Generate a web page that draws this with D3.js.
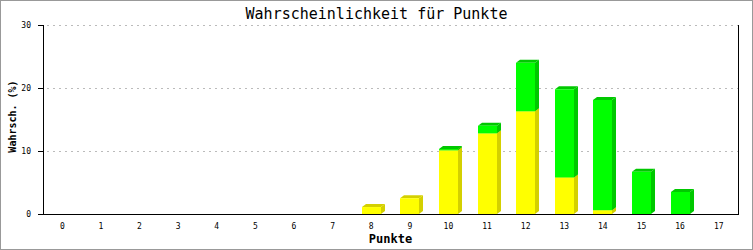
<!DOCTYPE html>
<html>
<head>
<meta charset="utf-8">
<script src="https://cdn.jsdelivr.net/npm/d3@7"></script>
<style>
  body { margin: 0; background: #fff; }
  svg { display: block; }
</style>
</head>
<body>
<div id="chart"></div>
<script>
// Daten
const punkte = ["0","1","2","3","4","5","6","7","8","9","10","11","12","13","14","15","16","17"];
const gelb  = [0,0,0,0,0,0,0,0,1.1,2.5,10.1,12.8,16.3,5.8,0.6,0,0,0];
const gruen = [0,0,0,0,0,0,0,0,0,0,0.2,1.2,7.7,14.0,17.5,6.7,3.5,0];
const yTicks = [0, 10, 20, 30];

const width = 753, height = 250;
const margin = {top: 25, right: 15, bottom: 36, left: 43};

const svg = d3.select("#chart").append("svg")
  .attr("width", width)
  .attr("height", height);

// Rahmen
svg.append("rect")
  .attr("x", 0.5).attr("y", 0.5)
  .attr("width", width - 1).attr("height", height - 1)
  .attr("fill", "#fff").attr("stroke", "#999");

const x = d3.scaleBand().domain(punkte).range([margin.left, width - margin.right]);
const y = d3.scaleLinear().domain([0, 30]).range([height - margin.bottom, margin.top]);

// Gitterlinien
svg.append("g").selectAll("line")
  .data(yTicks.filter(d => d > 0))
  .join("line")
  .attr("x1", margin.left + 4).attr("x2", width - margin.right)
  .attr("y1", d => Math.round(y(d)) + 0.5).attr("y2", d => Math.round(y(d)) + 0.5)
  .attr("stroke", "#bbb")
  .attr("stroke-dasharray", "2,4");

// Balken (gestapelt, mit 3D-Effekt)
const barW = 19, dx = 4, dy = 3;
const series = [
  {values: gelb, front: "#ffff00", side: "#d4d000"},
  {values: gruen, front: "#00ff00", side: "#00c800"}
];
const base = punkte.map(() => 0);
const bars = svg.append("g");
series.forEach(s => {
  punkte.forEach((p, i) => {
    const v = s.values[i];
    if (v <= 0) return;
    const x0 = Math.round(x(p) + x.bandwidth() / 2 - barW / 2);
    const yb = y(base[i]);
    const yt = y(base[i] + v);
    // Seite
    bars.append("polygon")
      .attr("points", [[x0 + barW, yb], [x0 + barW + dx, yb - dy], [x0 + barW + dx, yt - dy], [x0 + barW, yt]].join(" "))
      .attr("fill", s.side);
    // Oberseite
    bars.append("polygon")
      .attr("points", [[x0, yt], [x0 + dx, yt - dy], [x0 + barW + dx, yt - dy], [x0 + barW, yt]].join(" "))
      .attr("fill", s.side);
    // Vorderseite
    bars.append("rect")
      .attr("x", x0).attr("y", yt)
      .attr("width", barW).attr("height", yb - yt)
      .attr("fill", s.front);
    base[i] += v;
  });
});

// Achsen
const yAxis = svg.append("g")
  .attr("transform", `translate(${margin.left},0)`)
  .call(d3.axisLeft(y).tickValues(yTicks).tickSize(5).tickPadding(7).tickSizeOuter(0));
yAxis.select(".domain").remove();
yAxis.append("line")
  .attr("x1", 0.5).attr("x2", 0.5)
  .attr("y1", y(30)).attr("y2", y(0))
  .attr("stroke", "#000");

svg.append("line")
  .attr("x1", width - margin.right + 0.5).attr("x2", width - margin.right + 0.5)
  .attr("y1", y(30)).attr("y2", y(0))
  .attr("stroke", "#000");

const xAxis = svg.append("g")
  .attr("transform", `translate(0,${y(0)})`)
  .call(d3.axisBottom(x).tickSize(0).tickPadding(9));
xAxis.select(".domain").remove();
xAxis.append("line")
  .attr("x1", margin.left - 5).attr("x2", width - margin.right + 1)
  .attr("y1", 0.5).attr("y2", 0.5)
  .attr("stroke", "#000");

svg.selectAll(".tick text")
  .attr("font-family", "DejaVu Sans Mono")
  .attr("font-size", 8)
  .attr("fill", "#000");

// Titel und Beschriftungen
svg.append("text")
  .attr("x", (margin.left + width - margin.right) / 2 - 14)
  .attr("y", 19)
  .attr("text-anchor", "middle")
  .attr("font-family", "DejaVu Sans Mono")
  .attr("font-size", 15)
  .text("Wahrscheinlichkeit für Punkte");

svg.append("text")
  .attr("x", (margin.left + width - margin.right) / 2)
  .attr("y", 243)
  .attr("text-anchor", "middle")
  .attr("font-family", "DejaVu Sans Mono")
  .attr("font-weight", "bold")
  .attr("font-size", 12)
  .text("Punkte");

svg.append("text")
  .attr("transform", `translate(16,${(margin.top + height - margin.bottom) / 2 - 3}) rotate(-90)`)
  .attr("text-anchor", "middle")
  .attr("font-family", "DejaVu Sans Mono")
  .attr("font-weight", "bold")
  .attr("font-size", 10)
  .text("Wahrsch. (%)");
</script>
</body>
</html>
